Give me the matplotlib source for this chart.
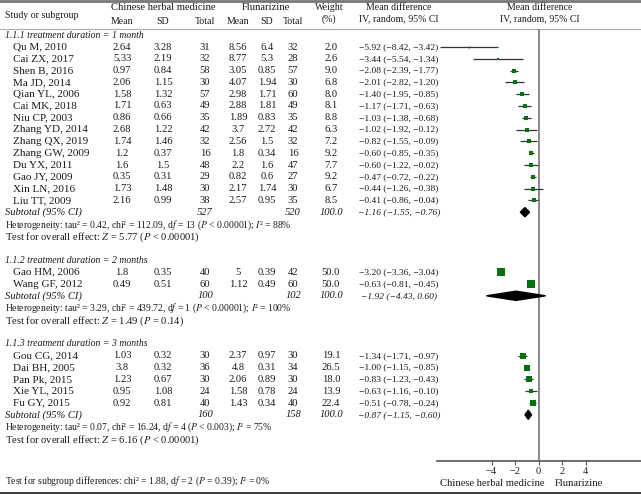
import numpy as np
import matplotlib.pyplot as plt
from matplotlib.patches import Polygon

plt.rcParams['font.family'] = ['Liberation Serif', 'DejaVu Serif']
plt.rcParams['mathtext.fontset'] = 'stix'

# ---- data ----
# subgroup 1.1.1 (1 month)
names_1 = ["Qu M, 2010", "Cai ZX, 2017", "Shen B, 2016", "Ma JD, 2014", "Qian YL, 2006",
           "Cai MK, 2018", "Niu CP, 2003", "Zhang YD, 2014", "Zhang QX, 2019", "Zhang GW, 2009",
           "Du YX, 2011", "Gao JY, 2009", "Xin LN, 2016", "Liu TT, 2009"]
chm_mean_1 = [2.64, 5.33, 0.97, 2.06, 1.58, 1.71, 0.86, 2.68, 1.74, 1.2, 1.6, 0.35, 1.73, 2.16]
chm_sd_1 = [3.28, 2.19, 0.84, 1.15, 1.32, 0.63, 0.66, 1.22, 1.46, 0.37, 1.5, 0.31, 1.48, 0.99]
chm_n_1 = [31, 32, 58, 30, 57, 49, 35, 42, 32, 16, 48, 29, 30, 38]
flu_mean_1 = [8.56, 8.77, 3.05, 4.07, 2.98, 2.88, 1.89, 3.7, 2.56, 1.8, 2.2, 0.82, 2.17, 2.57]
flu_sd_1 = [6.4, 5.3, 0.85, 1.94, 1.71, 1.81, 0.83, 2.72, 1.5, 0.34, 1.6, 0.6, 1.74, 0.95]
flu_n_1 = [32, 28, 57, 30, 60, 49, 35, 42, 32, 16, 47, 27, 30, 35]
weight_1 = [2.0, 2.6, 9.0, 6.8, 8.0, 8.1, 8.8, 6.3, 7.2, 9.2, 7.7, 9.2, 6.7, 8.5]
md_1 = [-5.92, -3.44, -2.08, -2.01, -1.40, -1.17, -1.03, -1.02, -0.82, -0.60, -0.60, -0.47, -0.44, -0.41]
lo_1 = [-8.42, -5.54, -2.39, -2.82, -1.95, -1.71, -1.38, -1.92, -1.55, -0.85, -1.22, -0.72, -1.26, -0.86]
hi_1 = [-3.42, -1.34, -1.77, -1.20, -0.85, -0.63, -0.68, -0.12, -0.09, -0.35, -0.02, -0.22, 0.38, -0.04]
sub_1 = [527, 520, -1.16, -1.55, -0.76]
het_1 = "Heterogeneity: tau² = 0.42, chi² = 112.09, d$f$ = 13 ($P$ < 0.00001); $I$² = 88%"
test_1 = "Test for overall effect: $Z$ = 5.77 ($P$ < 0.00001)"

# subgroup 1.1.2 (2 months)
names_2 = ["Gao HM, 2006", "Wang GF, 2012"]
chm_mean_2 = [1.8, 0.49]
chm_sd_2 = [0.35, 0.51]
chm_n_2 = [40, 60]
flu_mean_2 = [5, 1.12]
flu_sd_2 = [0.39, 0.49]
flu_n_2 = [42, 60]
weight_2 = [50.0, 50.0]
md_2 = [-3.20, -0.63]
lo_2 = [-3.36, -0.81]
hi_2 = [-3.04, -0.45]
sub_2 = [100, 102, -1.92, -4.43, 0.60]
het_2 = "Heterogeneity: tau² = 3.29, chi² = 439.72, d$f$ = 1 ($P$ < 0.00001); $I$² = 100%"
test_2 = "Test for overall effect: $Z$ = 1.49 ($P$ = 0.14)"

# subgroup 1.1.3 (3 months)
names_3 = ["Gou CG, 2014", "Dai BH, 2005", "Pan Pk, 2015", "Xie YL, 2015", "Fu GY, 2015"]
chm_mean_3 = [1.03, 3.8, 1.23, 0.95, 0.92]
chm_sd_3 = [0.32, 0.32, 0.67, 1.08, 0.81]
chm_n_3 = [30, 36, 30, 24, 40]
flu_mean_3 = [2.37, 4.8, 2.06, 1.58, 1.43]
flu_sd_3 = [0.97, 0.31, 0.89, 0.78, 0.34]
flu_n_3 = [30, 34, 30, 24, 40]
weight_3 = [19.1, 26.5, 18.0, 13.9, 22.4]
md_3 = [-1.34, -1.00, -0.83, -0.63, -0.51]
lo_3 = [-1.71, -1.15, -1.23, -1.16, -0.78]
hi_3 = [-0.97, -0.85, -0.43, -0.10, -0.24]
sub_3 = [160, 158, -0.87, -1.15, -0.60]
het_3 = "Heterogeneity: tau² = 0.07, chi² = 16.24, d$f$ = 4 ($P$ < 0.003); $I$² = 75%"
test_3 = "Test for overall effect: $Z$ = 6.16 ($P$ < 0.00001)"

subgroup_test = "Test for subgroup differences: chi² = 1.88, d$f$ = 2 ($P$ = 0.39); $I$² = 0%"
# printed upper limit differs from the drawn one for this study
printed_hi = {"Xin LN, 2016": -0.38}

groups = [
    ("1.1.1 treatment duration = 1 month", names_1, chm_mean_1, chm_sd_1, chm_n_1, flu_mean_1,
     flu_sd_1, flu_n_1, weight_1, md_1, lo_1, hi_1, sub_1, het_1, test_1),
    ("1.1.2 treatment duration = 2 months", names_2, chm_mean_2, chm_sd_2, chm_n_2, flu_mean_2,
     flu_sd_2, flu_n_2, weight_2, md_2, lo_2, hi_2, sub_2, het_2, test_2),
    ("1.1.3 treatment duration = 3 months", names_3, chm_mean_3, chm_sd_3, chm_n_3, flu_mean_3,
     flu_sd_3, flu_n_3, weight_3, md_3, lo_3, hi_3, sub_3, het_3, test_3),
]

W, H = 641, 494
fig = plt.figure(figsize=(W / 100, H / 100), dpi=100)
ax = fig.add_axes([0, 0, 1, 1])
ax.set_xlim(0, W)
ax.set_ylim(H, 0)
ax.axis("off")

# forest panel
x0_px, x1_px, ytop, ybot = 437, 641, 29, 461
axf = fig.add_axes([x0_px / W, (H - ybot) / H, (x1_px - x0_px) / W, (ybot - ytop) / H])
axf.set_facecolor("none")
axf.set_xlim(-8.64, 8.72)
axf.set_ylim(ybot, ytop)
for s in ["top", "left", "right"]:
    axf.spines[s].set_visible(False)
axf.spines["bottom"].set_color("#555555")
axf.spines["bottom"].set_linewidth(1.2)
axf.set_yticks([])
axf.set_xticks([-4, -2, 0, 2, 4])
axf.tick_params(axis="x", length=3, width=0.8, color="#555555", labelsize=7.5, pad=1.5,
                labelcolor="#222222")
axf.axvline(0, color="#888888", lw=1.4, zorder=1)

fs = 7.6
fs_name = 8.0
fs_hdr = 7.1
fs_eff = 6.8
fs_title = 7.0
fs_het = 6.9
tc = "#1a1a1a"
col_x = [122, 163, 205, 238, 267, 293, 331]
eff_x = 399


def fmt(v):
    return f"{v:.2f}".replace("-", "\u2212")


# headers
ax.text(5, 15, "Study or subgroup", fontsize=fs_hdr, color=tc, va="center")
ax.text(163, 8, "Chinese herbal medicine", fontsize=fs, color=tc, va="center", ha="center")
ax.text(266, 8, "Flunarizine", fontsize=fs, color=tc, va="center", ha="center")
for x, lab in zip(col_x[:6], ["Mean", "SD", "Total", "Mean", "SD", "Total"]):
    ax.text(x, 22, lab, fontsize=fs_hdr, color=tc, va="center", ha="center")
ax.text(329, 8, "Weight", fontsize=fs_hdr, color=tc, va="center", ha="center")
ax.text(329, 19, "(%)", fontsize=fs_hdr, color=tc, va="center", ha="center")
ax.text(eff_x, 8, "Mean difference", fontsize=fs_hdr, color=tc, va="center", ha="center")
ax.text(eff_x, 19, "IV, random, 95% CI", fontsize=fs_hdr, color=tc, va="center", ha="center")
ax.text(540, 8, "Mean difference", fontsize=fs_hdr, color=tc, va="center", ha="center")
ax.text(540, 19, "IV, random, 95% CI", fontsize=fs_hdr, color=tc, va="center", ha="center")

ax.axhline(1, color="#777777", lw=2)
ax.axhline(29, color="#aaaaaa", lw=0.8)
ax.axhline(492.5, color="#333333", lw=2)

step = 11.8
y = 35
for (title, names, cm, csd, cn, fm, fsd, fn, wt, md, lo, hi, sub, het, test) in groups:
    ax.text(5, y, title, fontsize=fs_title, color=tc, va="center", style="italic")
    y += 12
    for i in range(len(names)):
        vals = [f"{cm[i]:g}", f"{csd[i]:g}", f"{cn[i]}", f"{fm[i]:g}", f"{fsd[i]:g}",
                f"{fn[i]}", f"{wt[i]:.1f}"]
        ax.text(13, y, names[i], fontsize=fs_name, color=tc, va="center")
        for x, v in zip(col_x, vals):
            ax.text(x, y, v, fontsize=fs, color=tc, va="center", ha="center")
        h_txt = printed_hi.get(names[i], hi[i])
        ax.text(eff_x, y, f"{fmt(md[i])} ({fmt(lo[i])}, {fmt(h_txt)})", fontsize=fs_eff,
                color=tc, va="center", ha="center")
        axf.plot([lo[i], hi[i]], [y, y], color="#333333", lw=0.9, solid_capstyle="butt",
                 clip_on=False, zorder=2)
        axf.plot(md[i], y, marker="s", color="#007010", ms=0.9 * np.sqrt(wt[i]), mew=0,
                 clip_on=False, zorder=3)
        y += step
    ax.text(5, y, "Subtotal (95% CI)", fontsize=fs, color=tc, va="center", style="italic")
    ax.text(col_x[2], y, f"{sub[0]}", fontsize=fs, color=tc, va="center", ha="center",
            style="italic")
    ax.text(col_x[5], y, f"{sub[1]}", fontsize=fs, color=tc, va="center", ha="center",
            style="italic")
    ax.text(col_x[6], y, "100.0", fontsize=fs, color=tc, va="center", ha="center", style="italic")
    ax.text(eff_x, y, f"{fmt(sub[2])} ({fmt(sub[3])}, {fmt(sub[4])})", fontsize=fs_eff,
            color=tc, va="center", ha="center", style="italic")
    dh = 4.6
    axf.add_patch(Polygon([(sub[3], y), (sub[2], y - dh), (sub[4], y), (sub[2], y + dh)],
                          closed=True, color="black", clip_on=False, zorder=3))
    y += 12.8
    ax.text(5, y, het, fontsize=fs_het, color=tc, va="center")
    y += 12.2
    ax.text(5, y, test, fontsize=fs, color=tc, va="center")
    y += 23

ax.text(5, 481, subgroup_test, fontsize=fs_het, color=tc, va="center")
axf.text(-3.9, 483.5, "Chinese herbal medicine", fontsize=fs, color=tc, va="center",
         ha="center", clip_on=False)
axf.text(3.4, 483.5, "Flunarizine", fontsize=fs, color=tc, va="center", ha="center",
         clip_on=False)

fig.savefig("out.png", dpi=100)
